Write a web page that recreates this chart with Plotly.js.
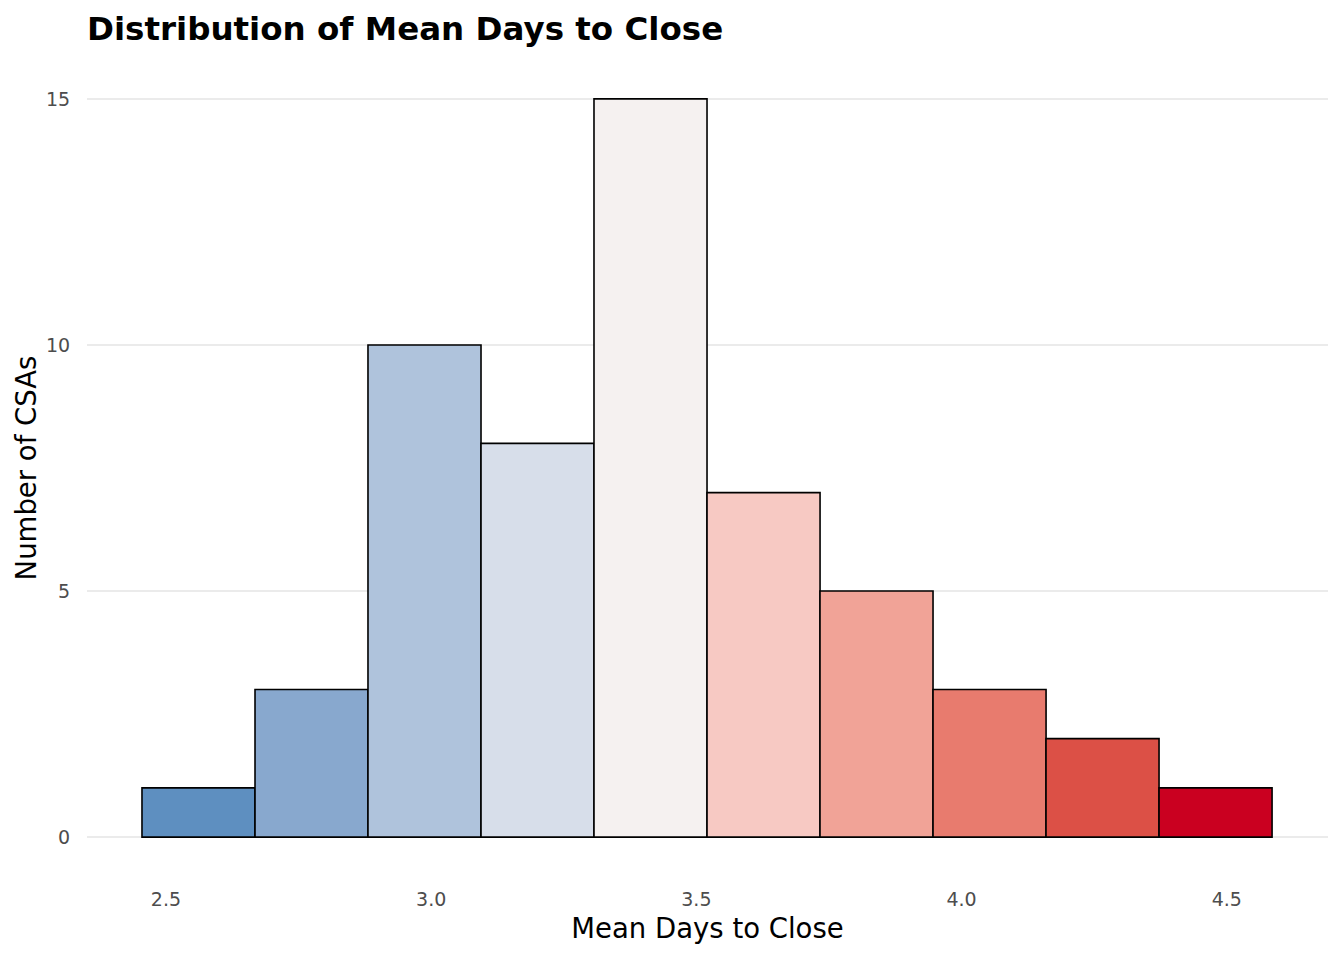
<!DOCTYPE html>
<html>
<head>
<meta charset="utf-8">
<script src="https://cdn.plot.ly/plotly-3.0.1.min.js"></script>
<style>html,body{margin:0;padding:0;background:#fff;}#chart{width:1344px;height:960px;}</style>
</head>
<body>
<div id="chart"></div>
<script>
// Histogram bins of mean days to close (bin midpoints) and counts of CSAs
const binCenters = [2.5613, 2.7744, 2.9874, 3.2005, 3.4135, 3.6266, 3.8396, 4.0527, 4.2657, 4.4788];
const binWidth = 0.2131;
const counts = [1, 3, 10, 8, 15, 7, 5, 3, 2, 1];
const binColors = ['#5E8FC0', '#88A8CE', '#AFC3DC', '#D7DEEA', '#F5F1F0', '#F7C9C3', '#F1A397', '#E87B6E', '#DC5046', '#CA0020'];
const xTicks = [2.5, 3.0, 3.5, 4.0, 4.5];
const yTicks = [0, 5, 10, 15];

const FONT = '"DejaVu Sans", "Open Sans", sans-serif';

const trace = {
  type: 'bar',
  x: binCenters,
  y: counts,
  width: binCenters.map(() => binWidth),
  marker: { color: binColors, line: { color: '#000000', width: 1.6 } },
  hoverinfo: 'x+y'
};

const layout = {
  width: 1344,
  height: 960,
  paper_bgcolor: '#ffffff',
  plot_bgcolor: '#ffffff',
  margin: { l: 87, r: 16, t: 62, b: 86 },
  showlegend: false,
  bargap: 0,
  font: { family: FONT, color: '#4D4D4D' },
  title: {
    text: '<b>Distribution of Mean Days to Close</b>',
    font: { family: FONT, size: 32.5, color: '#000000' },
    x: 87 / 1344, xanchor: 'left', xref: 'container',
    y: 1 - 29 / 960, yanchor: 'middle', yref: 'container'
  },
  xaxis: {
    range: [2.3511, 4.6908],
    tickvals: xTicks,
    ticktext: xTicks.map(v => v.toFixed(1)),
    showgrid: false,
    zeroline: false,
    showline: false,
    ticks: 'outside', ticklen: 8, tickcolor: 'rgba(0,0,0,0)',
    tickfont: { family: FONT, size: 19, color: '#4D4D4D' },
    title: { text: 'Mean Days to Close', font: { family: FONT, size: 27.5, color: '#000000' }, standoff: 9 }
  },
  yaxis: {
    range: [-0.75, 15.75],
    tickvals: yTicks,
    showgrid: true,
    gridcolor: '#EBEBEB',
    gridwidth: 1.3,
    zeroline: false,
    showline: false,
    ticks: 'outside', ticklen: 12, tickcolor: 'rgba(0,0,0,0)',
    tickfont: { family: FONT, size: 19, color: '#4D4D4D' },
    title: { text: 'Number of CSAs', font: { family: FONT, size: 27.5, color: '#000000' }, standoff: 1 }
  }
};

Plotly.newPlot('chart', [trace], layout, { displayModeBar: false, staticPlot: true });
</script>
</body>
</html>
